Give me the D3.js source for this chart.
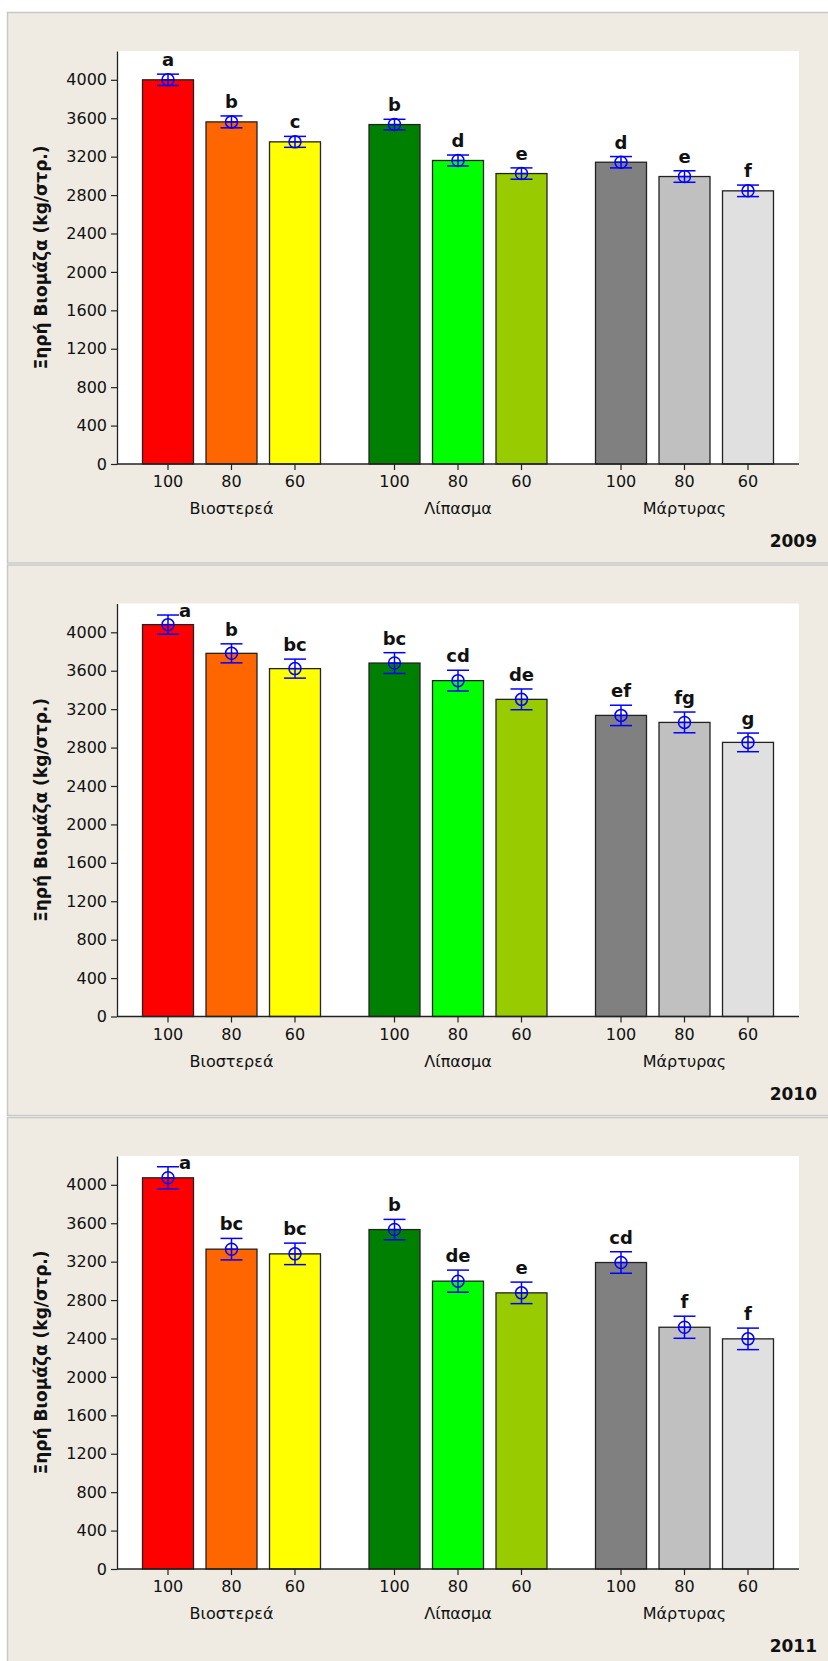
<!DOCTYPE html>
<html>
<head>
<meta charset="utf-8">
<script src="https://cdn.jsdelivr.net/npm/d3@7"></script>
<style>
  body { margin: 0; background: #fff; }
  svg text { font-family: "DejaVu Sans", Verdana, sans-serif; fill: #111; }
</style>
</head>
<body>
<div id="chart"></div>
<script>
// data
const groups = ["Βιοστερεά", "Λίπασμα", "Μάρτυρας"];
const levels = ["100", "80", "60"];
const years = ["2009", "2010", "2011"];
const yTicks = [0, 400, 800, 1200, 1600, 2000, 2400, 2800, 3200, 3600, 4000];

const means2009 = [4000, 3562, 3354, 3534, 3160, 3024, 3142, 2993, 2844];
const err2009 = [59, 62, 57, 55, 57, 59, 59, 60, 60];
const letters2009 = ["a", "b", "c", "b", "d", "e", "d", "e", "f"];

const means2010 = [4080, 3781, 3622, 3680, 3497, 3302, 3135, 3062, 2854];
const err2010 = [100, 99, 99, 108, 108, 108, 106, 108, 97];
const letters2010 = ["a", "b", "bc", "bc", "cd", "de", "ef", "fg", "g"];

const means2011 = [4073, 3330, 3281, 3534, 2997, 2875, 3191, 2517, 2396];
const err2011 = [115, 112, 112, 106, 115, 112, 112, 115, 112];
const letters2011 = ["a", "bc", "bc", "b", "de", "e", "cd", "f", "f"];

const barColors = ["#ff0000", "#ff6600", "#ffff00", "#008000", "#00ff00", "#99cc00", "#808080", "#c0c0c0", "#e0e0e0"];

const panels = [
  {year: years[0], means: means2009, err: err2009, letters: letters2009},
  {year: years[1], means: means2010, err: err2010, letters: letters2010},
  {year: years[2], means: means2011, err: err2011, letters: letters2011}
];

const W = 828, H = 1661;
const panelH = 552.5;
const plot = {left: 117, right: 799, top: 39, bottom: 452}; // relative to panel top

const svg = d3.select("#chart").append("svg")
    .attr("width", W)
    .attr("height", H);

const x0 = d3.scaleBand().domain(groups)
    .range([plot.left, plot.right])
    .paddingInner(0.159)
    .paddingOuter(0.085);

const x1 = d3.scaleBand().domain(levels)
    .range([0, x0.bandwidth()])
    .paddingInner(0.197)
    .paddingOuter(0.0985);

const y = d3.scaleLinear().domain([0, 4300]).range([plot.bottom, plot.top]);

panels.forEach(function(p, pi) {
  const g = svg.append("g")
      .attr("transform", "translate(0," + (12 + pi * panelH) + ")");

  g.append("rect")
      .attr("x", 7.5).attr("y", 0.5)
      .attr("width", W + 10).attr("height", panelH - 2)
      .attr("fill", "#efebe2")
      .attr("stroke", "#c8c8c8")
      .attr("stroke-width", 1.5);

  g.append("rect")
      .attr("x", plot.left).attr("y", plot.top)
      .attr("width", plot.right - plot.left)
      .attr("height", plot.bottom - plot.top)
      .attr("fill", "#fff");

  const rows = p.means.map(function(m, i) {
    return {
      group: groups[Math.floor(i / 3)],
      level: levels[i % 3],
      mean: m,
      err: p.err[i],
      letter: p.letters[i],
      color: barColors[i]
    };
  });
  rows.forEach(function(d) { d.cx = x0(d.group) + x1(d.level) + x1.bandwidth() / 2; });

  g.selectAll(".bar")
      .data(rows)
    .enter().append("rect")
      .attr("class", "bar")
      .attr("x", function(d) { return x0(d.group) + x1(d.level); })
      .attr("y", function(d) { return y(d.mean); })
      .attr("width", x1.bandwidth())
      .attr("height", function(d) { return y(0) - y(d.mean); })
      .attr("fill", function(d) { return d.color; })
      .attr("stroke", "#222")
      .attr("stroke-width", 1.3);

  // error bars with circled-plus marker
  const eb = g.selectAll(".err")
      .data(rows)
    .enter().append("g")
      .attr("class", "err")
      .attr("stroke", "#0000ff")
      .attr("stroke-width", 1.5)
      .attr("fill", "none");

  eb.append("line")
      .attr("x1", function(d) { return d.cx; })
      .attr("x2", function(d) { return d.cx; })
      .attr("y1", function(d) { return y(d.mean + d.err); })
      .attr("y2", function(d) { return y(d.mean - d.err); });
  eb.append("line")
      .attr("x1", function(d) { return d.cx - 11; })
      .attr("x2", function(d) { return d.cx + 11; })
      .attr("y1", function(d) { return y(d.mean + d.err); })
      .attr("y2", function(d) { return y(d.mean + d.err); });
  eb.append("line")
      .attr("x1", function(d) { return d.cx - 11; })
      .attr("x2", function(d) { return d.cx + 11; })
      .attr("y1", function(d) { return y(d.mean - d.err); })
      .attr("y2", function(d) { return y(d.mean - d.err); });
  eb.append("circle")
      .attr("cx", function(d) { return d.cx; })
      .attr("cy", function(d) { return y(d.mean); })
      .attr("r", 6);
  eb.append("line")
      .attr("x1", function(d) { return d.cx - 6; })
      .attr("x2", function(d) { return d.cx + 6; })
      .attr("y1", function(d) { return y(d.mean); })
      .attr("y2", function(d) { return y(d.mean); });

  // significance letters; pushed to the right when they would leave the plot
  g.selectAll(".letter")
      .data(rows)
    .enter().append("text")
      .attr("class", "letter")
      .attr("font-weight", "bold")
      .attr("font-size", 18)
      .attr("text-anchor", "middle")
      .each(function(d) {
        const top = y(d.mean + d.err);
        const t = d3.select(this).text(d.letter);
        if (top - 8 - 13 < plot.top) {
          t.attr("x", d.cx + 17).attr("y", top + 2);
        } else {
          t.attr("x", d.cx).attr("y", top - 8);
        }
      });

  // y axis
  const ya = g.append("g")
      .attr("transform", "translate(" + plot.left + ",0)")
      .call(d3.axisLeft(y).tickValues(yTicks).tickFormat(d3.format("d"))
        .tickSize(6).tickSizeOuter(0).tickPadding(4));
  ya.select(".domain").attr("stroke", "#222").attr("stroke-width", 1.3);
  ya.selectAll(".tick line").attr("stroke", "#222").attr("stroke-width", 1.2);
  ya.selectAll(".tick text").attr("font-size", 16).attr("font-family", "DejaVu Sans").attr("fill", "#111");

  // x axis: baseline + level ticks per group
  g.append("line")
      .attr("x1", plot.left).attr("x2", plot.right)
      .attr("y1", y(0)).attr("y2", y(0))
      .attr("stroke", "#222").attr("stroke-width", 1.3);

  groups.forEach(function(gr) {
    const xa = g.append("g")
        .attr("transform", "translate(" + x0(gr) + "," + y(0) + ")")
        .call(d3.axisBottom(x1).tickSize(6).tickSizeOuter(0).tickPadding(6));
    xa.select(".domain").remove();
    xa.selectAll(".tick line").attr("stroke", "#222").attr("stroke-width", 1.2);
    xa.selectAll(".tick text").attr("font-size", 16).attr("font-family", "DejaVu Sans").attr("fill", "#111");

    g.append("text")
        .attr("x", x0(gr) + x0.bandwidth() / 2)
        .attr("y", y(0) + 50)
        .attr("text-anchor", "middle")
        .attr("font-size", 16)
        .text(gr);
  });

  g.append("text")
      .attr("transform", "translate(47," + ((plot.top + plot.bottom) / 2) + ") rotate(-90)")
      .attr("text-anchor", "middle")
      .attr("font-weight", "bold")
      .attr("font-size", 17)
      .text("Ξηρή Βιομάζα (kg/στρ.)");

  g.append("text")
      .attr("x", 817)
      .attr("y", plot.bottom + 83)
      .attr("text-anchor", "end")
      .attr("font-weight", "bold")
      .attr("font-size", 17)
      .text(p.year);
});
</script>
</body>
</html>
